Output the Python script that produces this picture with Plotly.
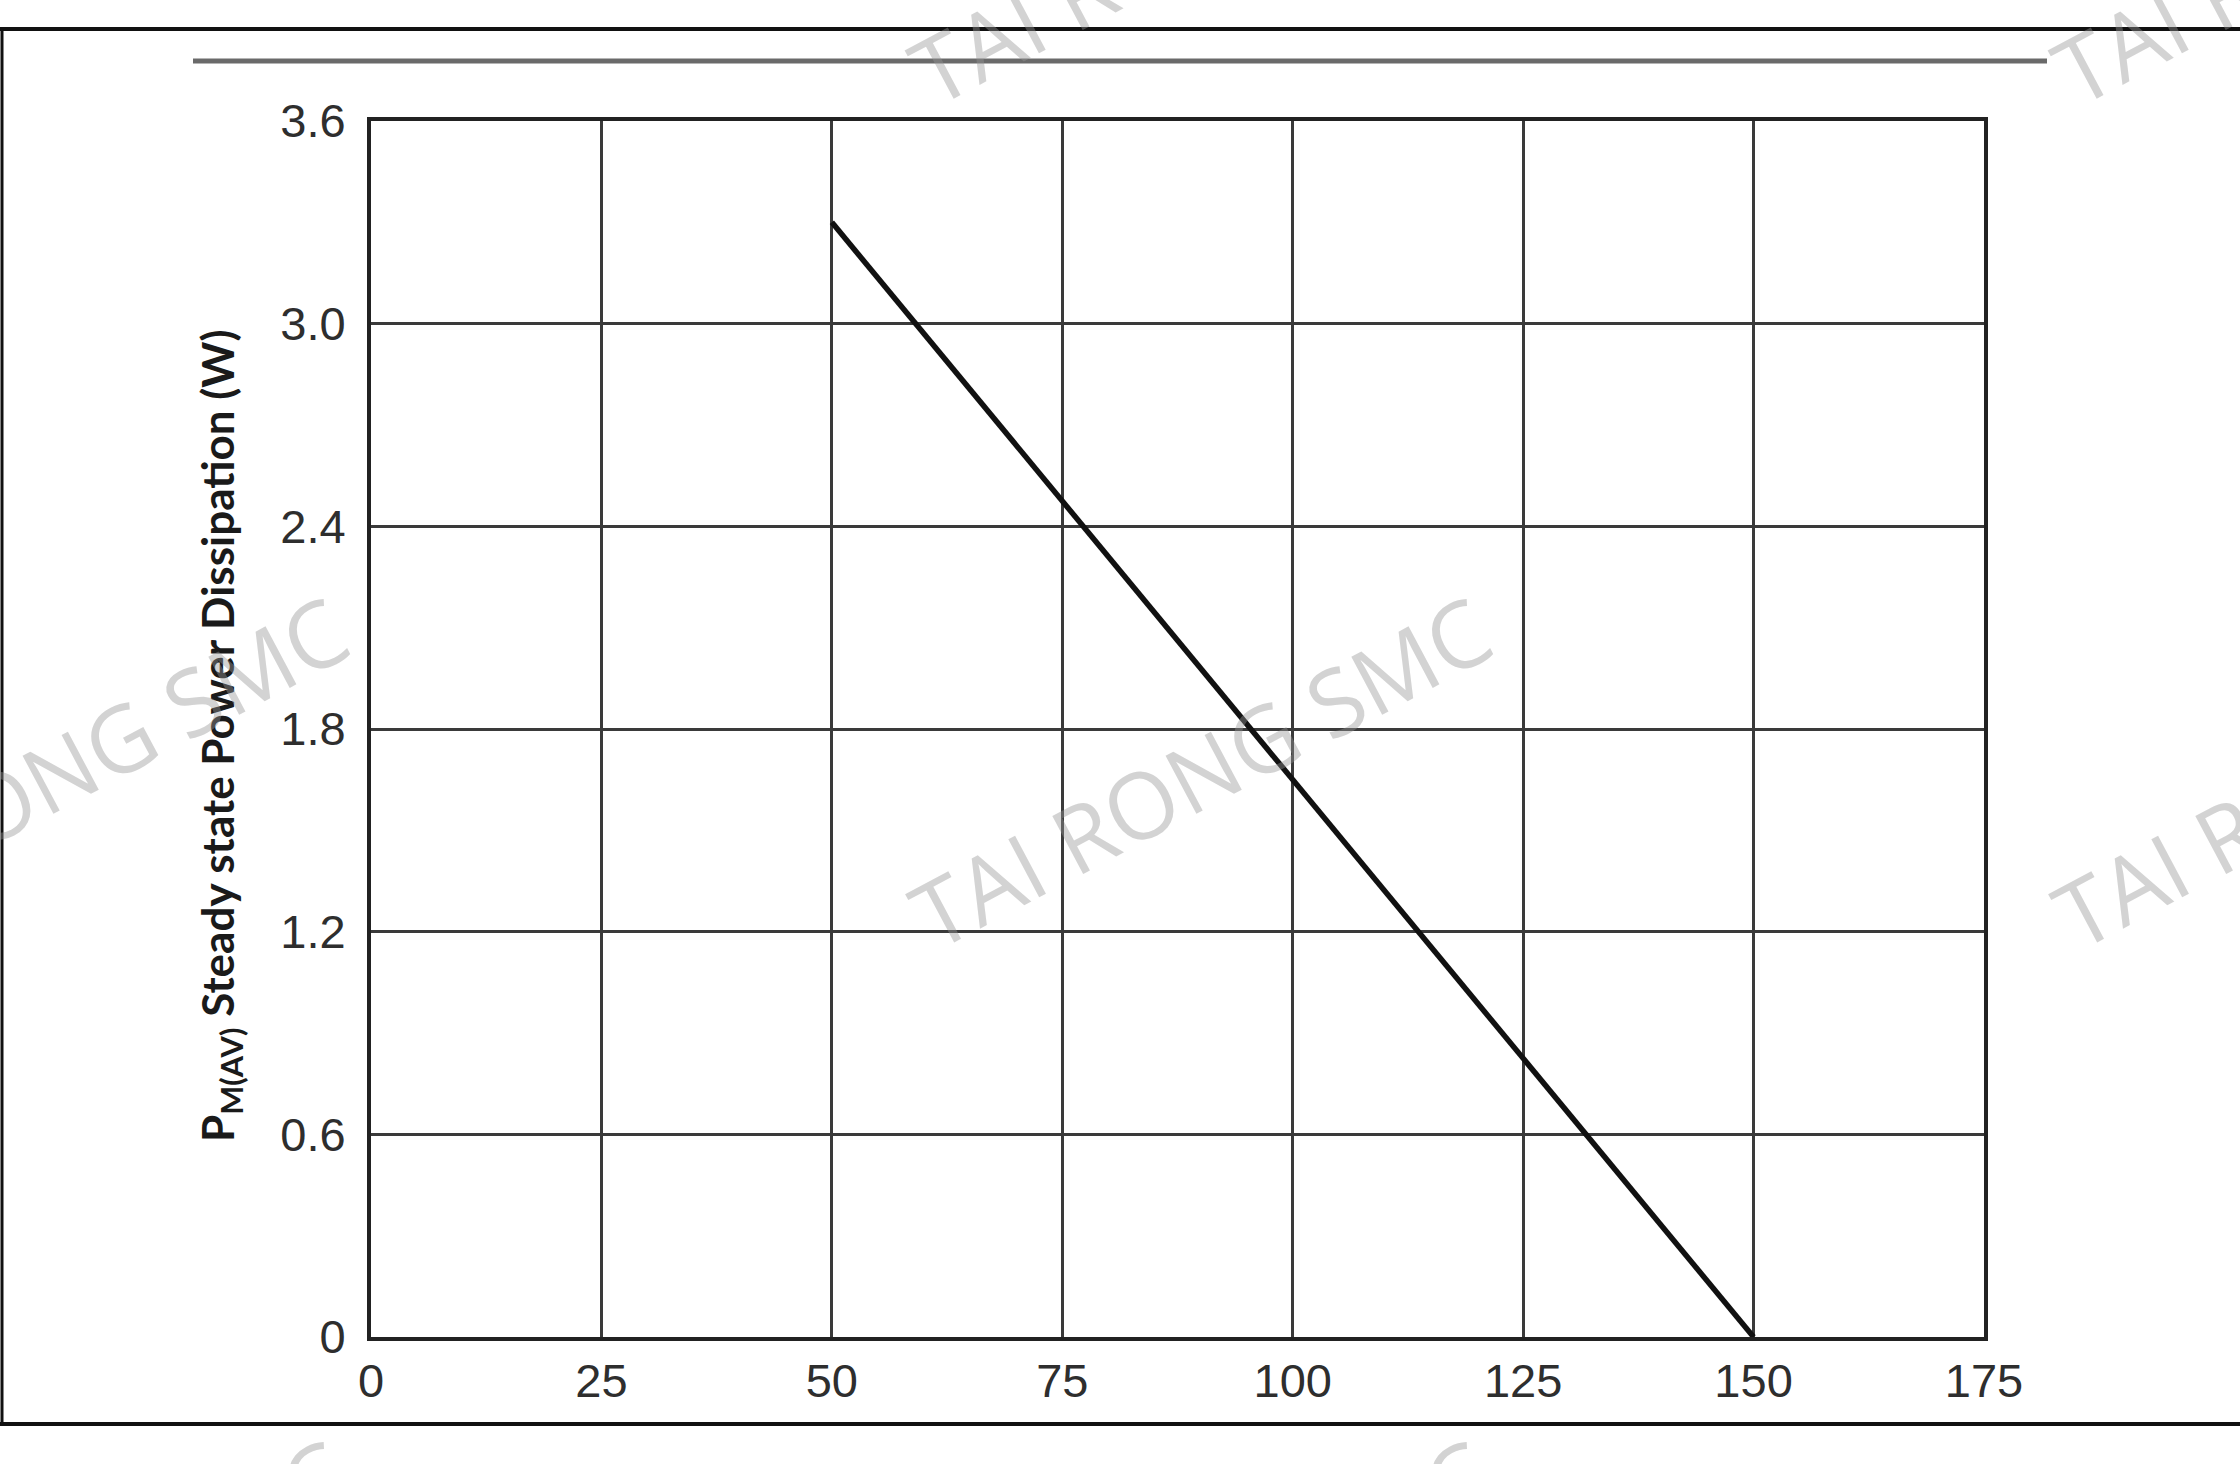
import plotly.graph_objects as go

# Data
temperature = [50, 150]          # ambient / lead temperature (°C)
power = [3.3, 0.0]               # steady state power dissipation (W)
x_ticks = [0, 25, 50, 75, 100, 125, 150, 175]
y_ticks = [0, 0.6, 1.2, 1.8, 2.4, 3.0, 3.6]
y_tick_labels = ["0", "0.6", "1.2", "1.8", "2.4", "3.0", "3.6"]
watermark_text = "TAI RONG SMC"

W, H = 2240, 1464
L, R, T, B = 371, 1984, 121, 1337
PW, PH = R - L, B - T


def px(xp):
    return (xp - L) / PW


def py(yp):
    return (B - yp) / PH


fig = go.Figure()
fig.add_trace(go.Scatter(
    x=temperature, y=power, mode="lines",
    line=dict(color="#111111", width=5.5),
    showlegend=False, hoverinfo="skip",
))

axis_common = dict(
    showgrid=True, gridcolor="#3a3a3a", gridwidth=2.5,
    showline=True, linecolor="#222222", linewidth=4, mirror=True,
    zeroline=False, ticks="",
    tickfont=dict(family="Liberation Sans, Arial", size=47, color="#2e2e2e"),
)

fig.update_xaxes(range=[0, 175], tickvals=x_ticks,
                 ticktext=[str(v) for v in x_ticks], **axis_common)
fig.update_yaxes(range=[0, 3.6], tickvals=y_ticks, ticktext=y_tick_labels,
                 ticklabelstandoff=12, **axis_common)

annotations = []
# y-axis title
annotations.append(dict(
    text="<b>P<sub>M(AV)</sub> Steady state Power Dissipation (W)</b>",
    xref="paper", yref="paper", x=px(221), y=py(736),
    xanchor="center", yanchor="middle", textangle=-90, showarrow=False,
    font=dict(family="Lato, Open Sans", size=44, color="#1a1a1a"),
))

# watermarks
cx0, cy0 = 1200, 771
dx, dy = 1143, 843
for i in (-1, 0, 1):
    for j in (-1, 0, 1):
        annotations.append(dict(
            text=watermark_text, xref="paper", yref="paper",
            x=px(cx0 + i * dx), y=py(cy0 + j * dy),
            xanchor="center", yanchor="middle", textangle=-28,
            showarrow=False,
            font=dict(family="Open Sans", size=92,
                      color="rgba(150,150,150,0.42)"),
        ))

shapes = [
    # page frame: top line
    dict(type="line", xref="paper", yref="paper", x0=px(0), x1=px(W),
         y0=py(29), y1=py(29), line=dict(color="#111111", width=4)),
    # bottom line
    dict(type="line", xref="paper", yref="paper", x0=px(0), x1=px(W),
         y0=py(1424), y1=py(1424), line=dict(color="#111111", width=4)),
    # left line
    dict(type="line", xref="paper", yref="paper", x0=px(2), x1=px(2),
         y0=py(29), y1=py(1424), line=dict(color="#111111", width=3)),
    # gray header rule
    dict(type="line", xref="paper", yref="paper", x0=px(193), x1=px(2047),
         y0=py(61), y1=py(61), line=dict(color="#6a6a6a", width=5)),
]

fig.update_layout(
    width=W, height=H,
    margin=dict(l=L, r=W - R, t=T, b=H - B, pad=0),
    paper_bgcolor="white", plot_bgcolor="white",
    annotations=annotations, shapes=shapes,
    showlegend=False,
)

fig.write_html("out.html", config={"displayModeBar": False},
               post_script="document.body.style.margin='0';")
